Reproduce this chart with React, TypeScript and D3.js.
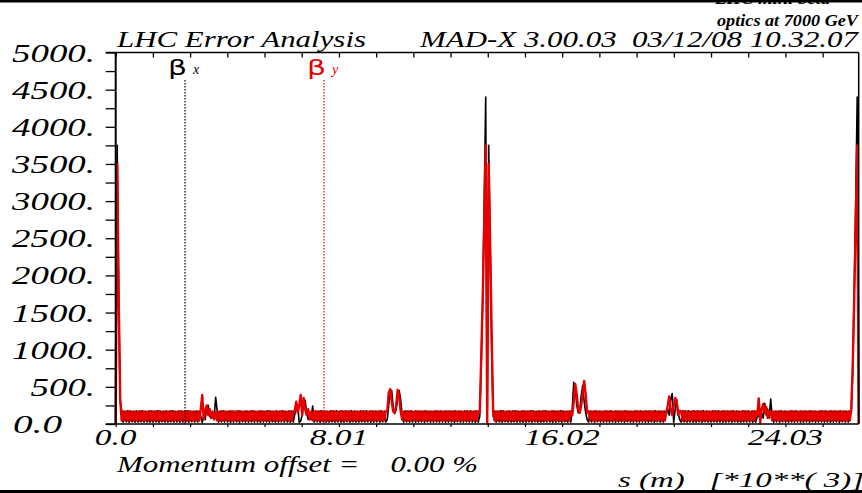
import React, { useEffect, useRef } from "react";
import { select, scaleLinear, line, axisLeft, axisBottom, range } from "d3";

// LHC mini beta optics, beta functions along the ring (s in km, beta in m)
const RING_LENGTH = 26.659;

const xTickValues = [0, 8.01, 16.02, 24.03];
const xTickLabels = ["0.0", "8.01", "16.02", "24.03"];
const yTickValues = [0, 500, 1000, 1500, 2000, 2500, 3000, 3500, 4000, 4500, 5000];
const yTickLabels = ["0.0", "500.", "1000.", "1500.", "2000.", "2500.", "3000.", "3500.", "4000.", "4500.", "5000."];

// beta_x, one value per half cell (499 samples from s = 0 to s = 26.659 km)
const betaX = [
  // IP1, right triplet
  10, 3750, 1750, 300,
  // arc 1-2
  175, 25, 172, 28, 178, 22, 175, 30, 170, 25,
  176, 24, 174, 27, 179, 25, 171, 26, 175, 23,
  175, 25, 172, 28, 178, 22, 175, 30, 170, 25,
  176, 24, 174, 27, 179, 25, 171, 26, 175, 23,
  175, 25, 172, 28, 178, 22, 175, 30, 170, 25,
  175, 26, 173,
  // IR2
  100, 20, 120, 60, 230, 250, 100, 150, 80, 90, 360,
  // arc 2-3
  176, 24, 174, 27, 179, 25, 171, 26, 175, 23,
  175, 25, 172, 28, 178, 22, 175, 30, 170, 25,
  176, 24, 174, 27, 179, 25, 171, 26, 175, 23,
  175, 25, 172, 28, 178, 22, 175, 30, 170, 25,
  176, 24, 174, 27, 179, 25, 171, 26, 175, 23,
  174, 25,
  // IR3
  130, 200, 260, 20, 40, 120, 300, 320, 150, 60, 120, 60, 240,
  // arc 3-4
  25, 175, 28, 172, 22, 178, 30, 175, 25, 170,
  24, 176, 27, 174, 25, 179, 26, 171, 23, 175,
  25, 175, 28, 172, 22, 178, 30, 175, 25, 170,
  24, 176, 27, 174, 25, 179, 26, 171, 23, 175,
  25, 175, 28, 172, 22, 178, 30, 175, 25,
  // IR4
  60, 250, 440, 450, 220, 140, 200, 330, 450, 330, 120,
  // arc 4-5
  24, 176, 27, 174, 25, 179, 26, 171, 23, 175,
  25, 175, 28, 172, 22, 178, 30, 175, 25, 170,
  24, 176, 27, 174, 25, 179, 26, 171, 23, 175,
  25, 175, 28, 172, 22, 178, 30, 175, 25, 170,
  24, 176, 27, 174, 25, 179, 26, 171, 23, 175,
  25,
  // IP5
  100, 800, 1700, 3000, 4400, 10, 3750, 2400, 1000, 100,
  // arc 5-6
  175, 25, 172, 28, 178, 22, 175, 30, 170, 25,
  176, 24, 174, 27, 179, 25, 171, 26, 175, 23,
  175, 25, 172, 28, 178, 22, 175, 30, 170, 25,
  176, 24, 174, 27, 179, 25, 171, 26, 175, 23,
  175, 25, 172, 28, 178, 22, 175, 30, 170, 25,
  175, 25,
  // IR6
  200, 560, 500, 250, 150, 180, 380, 520, 300, 150, 60,
  // arc 6-7
  25, 175, 28, 172, 22, 178, 30, 175, 25, 170,
  24, 176, 27, 174, 25, 179, 26, 171, 23, 175,
  25, 175, 28, 172, 22, 178, 30, 175, 25, 170,
  24, 176, 27, 174, 25, 179, 26, 171, 23, 175,
  25, 175, 28, 172, 22, 178, 30, 175, 25, 170,
  25, 175,
  // IR7
  130, 200, 120, 330, 410, 20, 200, 330, 150, 60,
  // arc 7-8
  24, 176, 27, 174, 25, 179, 26, 171, 23, 175,
  25, 175, 28, 172, 22, 178, 30, 175, 25, 170,
  24, 176, 27, 174, 25, 179, 26, 171, 23, 175,
  25, 175, 28, 172, 22, 178, 30, 175, 25, 170,
  24, 176, 27, 174, 25, 179, 26, 171, 23, 175,
  25,
  // IR8
  100, 120, 60, 140, 80, 280, 120, 200, 80, 335, 100,
  // arc 8-1
  25, 175, 28, 172, 22, 178, 30, 175, 25, 170,
  24, 176, 27, 174, 25, 179, 26, 171, 23, 175,
  25, 175, 28, 172, 22, 178, 30, 175, 25, 170,
  24, 176, 27, 174, 25, 179, 26, 171, 23, 175,
  25, 175, 28, 172, 22, 178, 30, 175, 25, 170,
  25, 175,
  // IP1, left triplet
  150, 700, 1800, 3000, 4400, 10,
];

// beta_y, same sampling
const betaY = [
  // IP1, right triplet
  10, 3500, 1700, 350,
  // arc 1-2
  45, 170, 48, 168, 42, 172, 46, 165, 44, 170,
  47, 167, 43, 171, 45, 169, 49, 166, 44, 172,
  45, 170, 48, 168, 42, 172, 46, 165, 44, 170,
  47, 167, 43, 171, 45, 169, 49, 166, 44, 172,
  45, 170, 48, 168, 42, 172, 46, 165, 44, 170,
  45, 170, 46,
  // IR2
  200, 390, 60, 180, 250, 120, 200, 80, 170, 60, 160,
  // arc 2-3
  47, 167, 43, 171, 45, 169, 49, 166, 44, 172,
  45, 170, 48, 168, 42, 172, 46, 165, 44, 170,
  47, 167, 43, 171, 45, 169, 49, 166, 44, 172,
  45, 170, 48, 168, 42, 172, 46, 165, 44, 170,
  47, 167, 43, 171, 45, 169, 49, 166, 44, 172,
  44, 170,
  // IR3
  180, 300, 150, 250, 390, 120, 350, 200, 120, 200, 60, 170, 50,
  // arc 3-4
  170, 45, 168, 48, 172, 42, 165, 46, 170, 44,
  167, 47, 171, 43, 169, 45, 166, 49, 172, 44,
  170, 45, 168, 48, 172, 42, 165, 46, 170, 44,
  167, 47, 171, 43, 169, 45, 166, 49, 172, 44,
  170, 45, 168, 48, 172, 42, 165, 46, 170,
  // IR4
  170, 420, 470, 300, 170, 150, 250, 460, 380, 170, 60,
  // arc 4-5
  167, 47, 171, 43, 169, 45, 166, 49, 172, 44,
  170, 45, 168, 48, 172, 42, 165, 46, 170, 44,
  167, 47, 171, 43, 169, 45, 166, 49, 172, 44,
  170, 45, 168, 48, 172, 42, 165, 46, 170, 44,
  167, 47, 171, 43, 169, 45, 166, 49, 172, 44,
  170,
  // IP5
  150, 900, 1700, 2700, 3750, 10, 3500, 2400, 1200, 150,
  // arc 5-6
  45, 170, 48, 168, 42, 172, 46, 165, 44, 170,
  47, 167, 43, 171, 45, 169, 49, 166, 44, 172,
  45, 170, 48, 168, 42, 172, 46, 165, 44, 170,
  47, 167, 43, 171, 45, 169, 49, 166, 44, 172,
  45, 170, 48, 168, 42, 172, 46, 165, 44, 170,
  45, 170,
  // IR6
  120, 300, 540, 400, 200, 150, 250, 420, 580, 400, 150,
  // arc 6-7
  170, 45, 168, 48, 172, 42, 165, 46, 170, 44,
  167, 47, 171, 43, 169, 45, 166, 49, 172, 44,
  170, 45, 168, 48, 172, 42, 165, 46, 170, 44,
  167, 47, 171, 43, 169, 45, 166, 49, 172, 44,
  170, 45, 168, 48, 172, 42, 165, 46, 170, 44,
  170, 45,
  // IR7
  150, 250, 370, 200, 120, 250, 350, 300, 120, 180,
  // arc 7-8
  167, 47, 171, 43, 169, 45, 166, 49, 172, 44,
  170, 45, 168, 48, 172, 42, 165, 46, 170, 44,
  167, 47, 171, 43, 169, 45, 166, 49, 172, 44,
  170, 45, 168, 48, 172, 42, 165, 46, 170, 44,
  167, 47, 171, 43, 169, 45, 166, 49, 172, 44,
  170,
  // IR8
  120, 345, 20, 200, 270, 150, 230, 80, 170, 160, 50,
  // arc 8-1
  170, 45, 168, 48, 172, 42, 165, 46, 170, 44,
  167, 47, 171, 43, 169, 45, 166, 49, 172, 44,
  170, 45, 168, 48, 172, 42, 165, 46, 170, 44,
  167, 47, 171, 43, 169, 45, 166, 49, 172, 44,
  170, 45, 168, 48, 172, 42, 165, 46, 170, 44,
  170, 45,
  // IP1, left triplet
  200, 800, 1700, 2700, 3750, 10,
];

const RED = "#e60000";
const SERIF = "'Liberation Serif', 'Times New Roman', serif";

// rough glyph widths of the stretched plotter font
const labelWidth = (s: string, digit: number) =>
  s.split("").reduce((w, c) => w + (c === "." ? digit * 0.48 : digit), 0);

const App = () => {
  const svgRef = useRef<SVGSVGElement>(null);

  useEffect(() => {
    const W = 862;
    const H = 493;
    const left = 115.7;
    const right = 858.7;
    const top = 52.5;
    const bottom = 424;

    const svg = select(svgRef.current);
    svg.selectAll("*").remove();
    svg.attr("width", W).attr("height", H);

    svg.append("rect").attr("width", W).attr("height", H).attr("fill", "#fff");

    const x = scaleLinear().domain([0, RING_LENGTH]).range([left, right]);
    const y = scaleLinear().domain([0, 5000]).range([bottom, top]);

    const text = (
      px: number,
      py: number,
      str: string,
      size: number,
      opts: { anchor?: string; len?: number; weight?: string; color?: string; family?: string; italic?: boolean } = {}
    ) => {
      const t = svg
        .append("text")
        .attr("x", px)
        .attr("y", py)
        .attr("font-family", opts.family || SERIF)
        .attr("font-style", opts.italic === false ? "normal" : "italic")
        .attr("font-size", size)
        .attr("font-weight", opts.weight || "normal")
        .attr("fill", opts.color || "#000")
        .attr("text-anchor", opts.anchor || "start")
        .style("white-space", "pre")
        .text(str);
      if (opts.len) t.attr("textLength", opts.len).attr("lengthAdjust", "spacingAndGlyphs");
      return t;
    };

    // page borders
    svg.append("rect").attr("x", 0).attr("y", 0).attr("width", W).attr("height", 2.5).attr("fill", "#000");
    svg.append("rect").attr("x", 0).attr("y", 490).attr("width", W).attr("height", 3).attr("fill", "#000");

    // header
    text(715, 4, "LHC mini beta", 16, { weight: "bold", len: 115 });
    text(858, 26, "optics at 7000 GeV", 17, { weight: "bold", anchor: "end", len: 141 });
    text(117, 47, "LHC Error Analysis", 24, { len: 249 });
    text(420, 47, "MAD-X 3.00.03  03/12/08 10.32.07", 24, { len: 438 });

    // ticks
    const yMinor = range(0, 5001, 250);
    const sStep = 8.01 / 6;
    const sTicks = range(0, RING_LENGTH, sStep);

    svg
      .append("g")
      .attr("transform", `translate(${left},0)`)
      .call(axisLeft(y).tickValues(yMinor).tickSize(10).tickSizeOuter(0).tickFormat(() => ""))
      .call((g) => g.select(".domain").remove())
      .selectAll("line")
      .attr("stroke-width", 1.3);

    svg
      .append("g")
      .attr("transform", `translate(0,${top})`)
      .call(axisBottom(x).tickValues(sTicks).tickSize(5).tickSizeOuter(0).tickFormat(() => ""))
      .call((g) => g.select(".domain").remove())
      .selectAll("line")
      .attr("stroke-width", 1.3);

    svg
      .append("g")
      .attr("transform", `translate(0,${bottom})`)
      .call(axisBottom(x).tickValues(sTicks).tickSize(3).tickSizeOuter(0).tickFormat(() => ""))
      .call((g) => g.select(".domain").remove())
      .selectAll("line")
      .attr("stroke-width", 1.2);

    // tick labels
    yTickValues.forEach((v, i) => {
      const lab = yTickLabels[i];
      if (v === 0) {
        text(13, y(v) + 9, lab, 26, { len: 49 });
      } else {
        text(95, y(v) + 9, lab, 26, { anchor: "end", len: labelWidth(lab, 18.5) });
      }
    });
    xTickValues.forEach((v, i) => {
      const lab = xTickLabels[i];
      text(x(v), 445, lab, 24, { anchor: "middle", len: labelWidth(lab, 16.8) });
    });

    // footer
    text(117, 472, "Momentum offset =    0.00 %", 23, { len: 361 });
    text(618, 487, "s (m)   [*10**( 3)]", 22, { len: 246 });

    // curves
    const step = RING_LENGTH / (betaX.length - 1);
    const curve = line<number>()
      .x((_, i) => x(i * step))
      .y((d) => y(d));

    svg
      .append("path")
      .datum(betaX)
      .attr("fill", "none")
      .attr("stroke", "#000")
      .attr("stroke-width", 1.6)
      .attr("stroke-linejoin", "round")
      .attr("d", curve);

    svg
      .append("path")
      .datum(betaY)
      .attr("fill", "none")
      .attr("stroke", RED)
      .attr("stroke-width", 2.4)
      .attr("stroke-linejoin", "round")
      .attr("d", curve);

    // legend: beta symbol with a dotted marker line
    const legend = [
      { sub: "x", s: 2.487, color: "#000" },
      { sub: "y", s: 7.474, color: RED },
    ];
    legend.forEach((d) => {
      const lx = x(d.s);
      svg
        .append("line")
        .attr("x1", lx)
        .attr("x2", lx)
        .attr("y1", 80)
        .attr("y2", bottom)
        .attr("stroke", d.color)
        .attr("stroke-width", 1.2)
        .attr("stroke-dasharray", "1.5,1.5");
      text(lx - 17, 75, "β", 22, {
        color: d.color,
        family: "'DejaVu Sans', sans-serif",
        italic: false,
        len: 19,
      });
      text(lx + 8, 74, d.sub, 14, { color: d.color });
    });

    // frame
    const frame = svg.append("g").attr("stroke", "#000").attr("fill", "none");
    frame.append("line").attr("x1", left).attr("x2", left).attr("y1", top).attr("y2", bottom).attr("stroke-width", 2);
    frame.append("line").attr("x1", right).attr("x2", right).attr("y1", top).attr("y2", bottom).attr("stroke-width", 1.5);
    frame.append("line").attr("x1", left - 10).attr("x2", right).attr("y1", top).attr("y2", top).attr("stroke-width", 1.5);
    frame.append("line").attr("x1", left - 10).attr("x2", right).attr("y1", bottom).attr("y2", bottom).attr("stroke-width", 1.5);
  }, []);

  return <svg ref={svgRef} style={{ position: "absolute", left: 0, top: 0 }}></svg>;
};

export default App;
